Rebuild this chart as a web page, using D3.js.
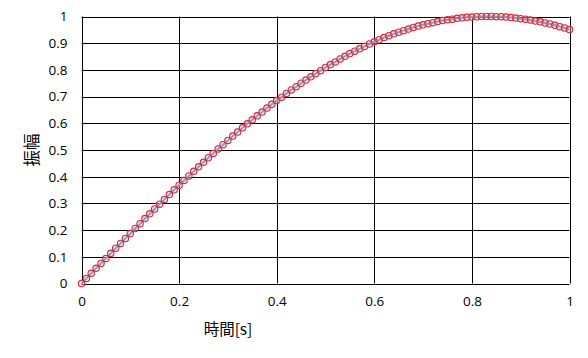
<!DOCTYPE html>
<html><head><meta charset="utf-8">
<script src="https://cdn.jsdelivr.net/npm/d3@7"></script>
<style>
body{margin:0;background:#fff;}
text{font-family:"Open Sans","Liberation Sans",sans-serif;}
.cjk{font-family:"Noto Sans CJK JP",sans-serif;}
</style></head><body>
<svg id="c" width="588" height="358"></svg>
<script>
const times = [0,0.01,0.02,0.03,0.04,0.05,0.06,0.07,0.08,0.09,0.1,0.11,0.12,0.13,0.14,0.15,0.16,0.17,0.18,0.19,0.2,0.21,0.22,0.23,0.24,0.25,0.26,0.27,0.28,0.29,0.3,0.31,0.32,0.33,0.34,0.35,0.36,0.37,0.38,0.39,0.4,0.41,0.42,0.43,0.44,0.45,0.46,0.47,0.48,0.49,0.5,0.51,0.52,0.53,0.54,0.55,0.56,0.57,0.58,0.59,0.6,0.61,0.62,0.63,0.64,0.65,0.66,0.67,0.68,0.69,0.7,0.71,0.72,0.73,0.74,0.75,0.76,0.77,0.78,0.79,0.8,0.81,0.82,0.83,0.84,0.85,0.86,0.87,0.88,0.89,0.9,0.91,0.92,0.93,0.94,0.95,0.96,0.97,0.98,0.99,1];
const amplitude = [0,0.019,0.038,0.057,0.075,0.094,0.113,0.132,0.150,0.169,0.187,0.206,0.224,0.243,0.261,0.279,0.297,0.315,0.333,0.351,0.368,0.386,0.403,0.420,0.437,0.454,0.471,0.487,0.504,0.520,0.536,0.552,0.567,0.583,0.598,0.613,0.628,0.642,0.657,0.671,0.685,0.698,0.712,0.725,0.737,0.750,0.762,0.774,0.786,0.797,0.809,0.820,0.830,0.841,0.851,0.861,0.870,0.879,0.888,0.897,0.905,0.913,0.921,0.928,0.935,0.941,0.947,0.953,0.959,0.964,0.969,0.973,0.977,0.981,0.985,0.988,0.990,0.993,0.995,0.997,0.998,0.999,1.000,1.000,1.000,0.999,0.999,0.998,0.996,0.994,0.992,0.990,0.987,0.983,0.980,0.976,0.972,0.967,0.962,0.957,0.951];
const xTicks = [0,0.2,0.4,0.6,0.8,1];
const yTicks = [0,0.1,0.2,0.3,0.4,0.5,0.6,0.7,0.8,0.9,1];
const xTitle = "時間[s]";
const yTitle = "振幅";

const svg = d3.select("#c");
const L = 81.5, R = 569.5, T = 16.5, B = 283.5;
const x = d3.scaleLinear().domain([0,1]).range([L,R]);
const y = d3.scaleLinear().domain([0,1]).range([B,T]);

// grid
const g = svg.append("g");
g.selectAll(".hg").data(yTicks).join("line")
  .attr("x1",L).attr("x2",R).attr("y1",d=>Math.round(y(d))+0.5).attr("y2",d=>Math.round(y(d))+0.5)
  .attr("stroke","#000").attr("stroke-width",1);
g.selectAll(".vg").data(xTicks).join("line")
  .attr("y1",T).attr("y2",B).attr("x1",d=>Math.round(x(d))+0.5).attr("x2",d=>Math.round(x(d))+0.5)
  .attr("stroke","#000").attr("stroke-width",1);

// axes labels
const xAxis = d3.axisBottom(x).tickValues(xTicks).tickSize(0).tickPadding(13).tickFormat(d3.format("~g"));
const yAxis = d3.axisLeft(y).tickValues(yTicks).tickSize(0).tickPadding(14).tickFormat(d3.format("~g"));
const gx = svg.append("g").attr("transform",`translate(0,${B})`).call(xAxis);
const gy = svg.append("g").attr("transform",`translate(${L},0)`).call(yAxis);
[gx,gy].forEach(a=>{a.select(".domain").remove(); a.selectAll("text").attr("font-size",13.5).attr("fill","#000").attr("font-family","Open Sans, Liberation Sans, sans-serif");});

// line
const pts = times.map((t,i)=>[t,amplitude[i]]);
svg.append("path").datum(pts)
  .attr("d", d3.line().x(d=>x(d[0])).y(d=>y(d[1])))
  .attr("fill","none").attr("stroke","#4f81bd").attr("stroke-width",2);
svg.append("g").selectAll("circle").data(pts).join("circle")
  .attr("cx",d=>x(d[0])).attr("cy",d=>y(d[1])).attr("r",3.2)
  .attr("fill","rgba(190,200,230,0.45)").attr("stroke","#e0262b").attr("stroke-width",1.1);

// titles
svg.append("text").attr("class","cjk").attr("x",228).attr("y",335).attr("text-anchor","middle")
  .attr("font-size",15.5).attr("fill","#000").text(xTitle);
svg.append("text").attr("class","cjk").attr("transform","translate(38,150) rotate(-90)").attr("text-anchor","middle")
  .attr("font-size",16.5).attr("fill","#000").text(yTitle);
</script>
</body></html>
